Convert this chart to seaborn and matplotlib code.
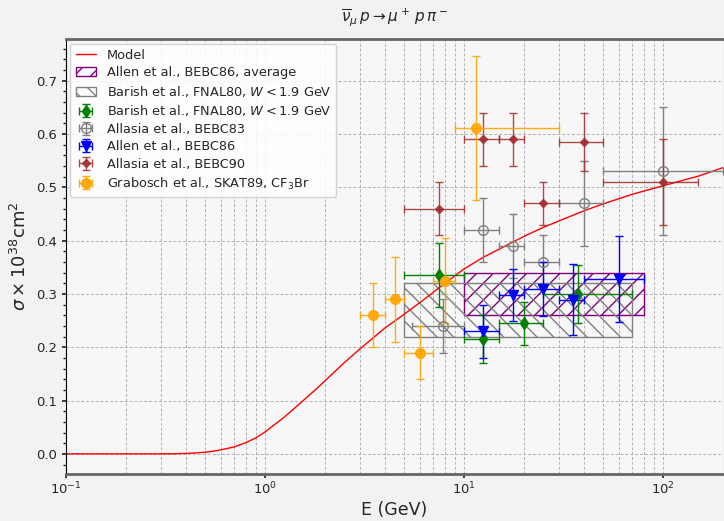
import numpy as np
import matplotlib
matplotlib.use("Agg")
import matplotlib.pyplot as plt
from matplotlib.ticker import LogLocator, MultipleLocator
import seaborn as sns

# model curve (E in GeV, sigma in 1e-38 cm^2)
model_E = [0.1, 0.2, 0.3, 0.35, 0.4, 0.45, 0.5, 0.55, 0.6, 0.7, 0.8, 0.9, 1.0, 1.1,
           1.25, 1.4, 1.6, 1.8, 2.0, 2.5, 3.0, 3.5, 4.0, 5.0, 6.0, 7.0, 8.0, 10.0,
           12.5, 15.0, 17.5, 20.0, 25.0, 30.0, 40.0, 50.0, 70.0, 100.0, 150.0, 200.0]
model_sig = [0.0, 0.0, 0.0, 0.0002, 0.0008, 0.0018, 0.003, 0.005, 0.0075, 0.013, 0.021,
             0.030, 0.041, 0.053, 0.069, 0.085, 0.104, 0.121, 0.137, 0.171, 0.197,
             0.218, 0.236, 0.262, 0.284, 0.303, 0.320, 0.347, 0.369, 0.384, 0.397,
             0.408, 0.425, 0.437, 0.456, 0.469, 0.487, 0.503, 0.521, 0.537]

# hatched boxes: energy range and sigma range
allen_avg_E = [10, 80]
allen_avg_sig = [0.26, 0.34]
barish_box_E = [5, 70]
barish_box_sig = [0.22, 0.32]

# Barish et al., FNAL80
barish_E = [7.5, 12.5, 20, 37.5]
barish_lo = [5, 10, 15, 25]
barish_hi = [10, 15, 25, 70]
barish_sig = [0.335, 0.215, 0.245, 0.30]
barish_err = [0.06, 0.045, 0.04, 0.055]

# Allasia et al., BEBC83
bebc83_E = [7.8, 12.5, 17.5, 25, 40, 100]
bebc83_lo = [5.5, 10, 15, 20, 30, 50]
bebc83_hi = [10, 15, 20, 30, 50, 200]
bebc83_sig = [0.24, 0.42, 0.39, 0.36, 0.47, 0.53]
bebc83_err = [0.05, 0.06, 0.06, 0.05, 0.08, 0.12]

# Allen et al., BEBC86
bebc86_E = [12.5, 17.5, 25, 35, 60]
bebc86_lo = [10, 15, 20, 30, 40]
bebc86_hi = [15, 20, 30, 40, 80]
bebc86_sig = [0.23, 0.298, 0.309, 0.289, 0.328]
bebc86_err = [0.05, 0.048, 0.05, 0.067, 0.08]

# Allasia et al., BEBC90
bebc90_E = [7.5, 12.5, 17.5, 25, 40, 100]
bebc90_lo = [5, 10, 15, 20, 30, 50]
bebc90_hi = [10, 15, 20, 30, 50, 150]
bebc90_sig = [0.46, 0.59, 0.59, 0.47, 0.585, 0.51]
bebc90_err = [0.05, 0.05, 0.05, 0.04, 0.055, 0.08]

# Grabosch et al., SKAT89
skat_E = [3.5, 4.5, 6, 8, 11.5]
skat_lo = [3, 4, 5, 7, 9]
skat_hi = [4, 5, 7, 9, 30]
skat_sig = [0.26, 0.29, 0.19, 0.325, 0.612]
skat_err = [0.06, 0.08, 0.05, 0.08, 0.135]


def xerr_of(E, lo, hi):
    E = np.array(E)
    return [E - np.array(lo), np.array(hi) - E]


sns.set_theme(style="ticks")
plt.rcParams['font.family'] = ['DejaVu Sans']
plt.rcParams['mathtext.fontset'] = 'dejavusans'

fig = plt.figure(figsize=(7.24, 5.21), dpi=100, facecolor='#f2f2f2')
ax = fig.add_axes([0.091, 0.090, 0.908, 0.835])
ax.set_facecolor('#f7f7f7')

sns.lineplot(x=model_E, y=model_sig, ax=ax, color='red', lw=1.0, label='Model')

ax.fill_between(allen_avg_E, allen_avg_sig[0], allen_avg_sig[1], facecolor='none',
                edgecolor='purple', hatch='//', lw=1.0, label='Allen et al., BEBC86, average')
ax.fill_between(barish_box_E, barish_box_sig[0], barish_box_sig[1], facecolor='none',
                edgecolor='grey', hatch='\\\\', lw=1.0,
                label=r'Barish et al., FNAL80, $W < 1.9$ GeV')

eb = dict(capsize=3, elinewidth=1.0, capthick=1.0, ls='none')
ax.errorbar(barish_E, barish_sig, yerr=barish_err, xerr=xerr_of(barish_E, barish_lo, barish_hi),
            fmt='d', color='green', ms=6, label=r'Barish et al., FNAL80, $W < 1.9$ GeV', **eb)
ax.errorbar(bebc83_E, bebc83_sig, yerr=bebc83_err, xerr=xerr_of(bebc83_E, bebc83_lo, bebc83_hi),
            fmt='o', color='grey', mfc='none', ms=7, label='Allasia et al., BEBC83', **eb)
ax.errorbar(bebc86_E, bebc86_sig, yerr=bebc86_err, xerr=xerr_of(bebc86_E, bebc86_lo, bebc86_hi),
            fmt='v', color='blue', ms=7, label='Allen et al., BEBC86', **eb)
ax.errorbar(bebc90_E, bebc90_sig, yerr=bebc90_err, xerr=xerr_of(bebc90_E, bebc90_lo, bebc90_hi),
            fmt='D', color='brown', ms=4, alpha=0.85, label='Allasia et al., BEBC90', **eb)
ax.errorbar(skat_E, skat_sig, yerr=skat_err, xerr=xerr_of(skat_E, skat_lo, skat_hi),
            fmt='o', color='orange', ms=7, alpha=0.9,
            label=r'Grabosch et al., SKAT89, CF$_3$Br', **eb)

ax.set_xscale('log')
ax.set_xlim(0.1, 200)
ax.set_ylim(-0.038, 0.778)
ax.yaxis.set_major_locator(MultipleLocator(0.1))
ax.yaxis.set_minor_locator(MultipleLocator(0.02))
ax.xaxis.set_minor_locator(LogLocator(base=10, subs=np.arange(2, 10), numticks=20))
grid_kw = dict(color='#b0b0b0', lw=0.7, dashes=(3, 2))
ax.grid(True, which='major', axis='both', **grid_kw)
ax.grid(True, which='minor', axis='x', **grid_kw)
ax.tick_params(axis='both', which='major', labelsize=9.5, length=3, direction='out')
ax.tick_params(axis='x', which='major', pad=1.5)
ax.tick_params(axis='y', which='minor', length=2)
ax.tick_params(axis='x', which='minor', length=0)

for side in ['top', 'bottom']:
    ax.spines[side].set_color('#666666')
    ax.spines[side].set_linewidth(2.0)
ax.spines['right'].set_visible(False)
ax.spines['left'].set_color('black')
ax.spines['left'].set_linewidth(0.8)

ax.set_title(r'$\overline{\nu}_\mu\, p \rightarrow \mu^+\, p\, \pi^-$', fontsize=11, pad=13)
ax.set_xlabel('E (GeV)', fontsize=12.5, labelpad=3)
ax.set_ylabel(r'$\sigma \times 10^{38} \mathrm{cm}^2$', fontsize=13)

ax.legend(loc='upper left', fontsize=9.3, framealpha=0.85, facecolor='white',
          edgecolor='#cccccc', borderaxespad=0.35, handlelength=1.6,
          labelspacing=0.35, handletextpad=0.8)

fig.savefig('out.png', dpi=100, facecolor=fig.get_facecolor())
